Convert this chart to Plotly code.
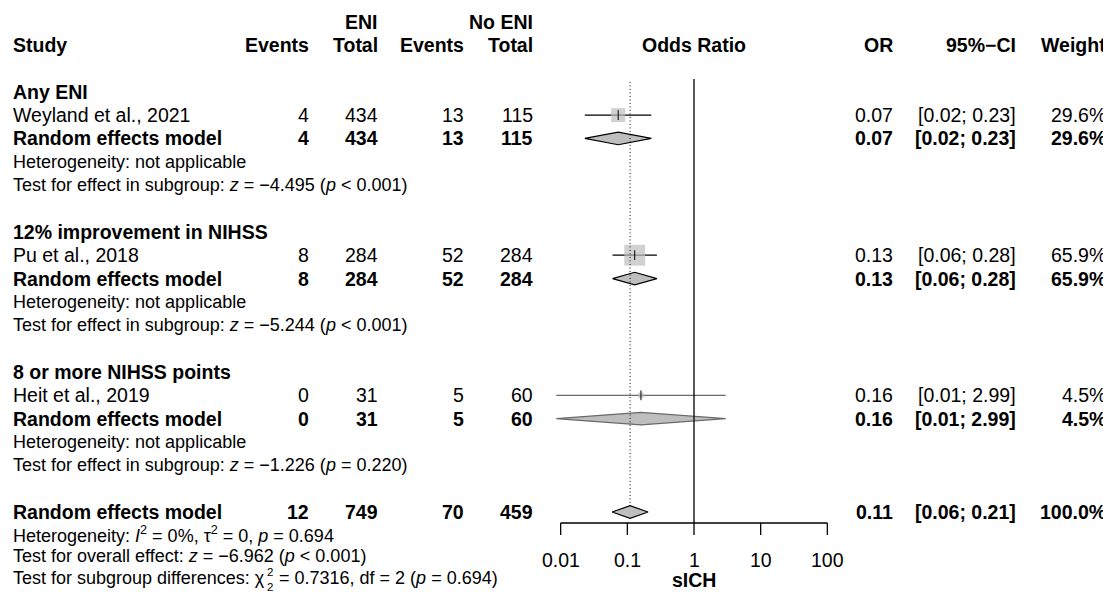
import math
import plotly.graph_objects as go

# ------------------------------------------------------------------ data
subgroup_names = ["Any ENI", "12% improvement in NIHSS", "8 or more NIHSS points"]
study_names = ["Weyland et al., 2021", "Pu et al., 2018", "Heit et al., 2019"]
eni_events = [4, 8, 0]
eni_total = [434, 284, 31]
noeni_events = [13, 52, 5]
noeni_total = [115, 284, 60]
odds_ratio = [0.073, 0.129, 0.160]
ci_lower = [0.023, 0.060, 0.0086]
ci_upper = [0.229, 0.278, 2.99]
or_labels = ["0.07", "0.13", "0.16"]
ci_labels = ["[0.02; 0.23]", "[0.06; 0.28]", "[0.01; 2.99]"]
weights = [29.6, 65.9, 4.5]
weight_labels = ["29.6%", "65.9%", "4.5%"]
subgroup_tests = [
    "Test for effect in subgroup: <i>z</i> = −4.495 (<i>p</i> &lt; 0.001)",
    "Test for effect in subgroup: <i>z</i> = −5.244 (<i>p</i> &lt; 0.001)",
    "Test for effect in subgroup: <i>z</i> = −1.226 (<i>p</i> = 0.220)",
]
subgroup_het = ["Heterogeneity: not applicable"] * 3

overall_counts = [12, 749, 70, 459]
overall_or = 0.110
overall_lower = 0.059
overall_upper = 0.205
overall_labels = ["0.11", "[0.06; 0.21]", "100.0%"]
overall_het = "Heterogeneity: <i>I</i><sup>2</sup> = 0%, τ<sup>2</sup> = 0, <i>p</i> = 0.694"
overall_test = "Test for overall effect: <i>z</i> = −6.962 (<i>p</i> &lt; 0.001)"
diff_prefix = "Test for subgroup differences: χ"
diff_scripts = "2<br>2"          # superscript 2 over subscript df = 2
diff_rest = "= 0.7316, df = 2 (<i>p</i> = 0.694)"

null_value = 1
tick_vals = [0.01, 0.1, 1, 10, 100]
tick_labels = ["0.01", "0.1", "1", "10", "100"]
x_title = "sICH"
header_top = ["ENI", "No ENI"]
header_cols = ["Study", "Events", "Total", "Events", "Total", "Odds Ratio", "OR", "95%−CI", "Weight"]

# ------------------------------------------------------------------ layout constants (screen pixels)
SCR_W, SCR_H = 1111, 592
OFF = 8                      # page body margin
FIG_W, FIG_H = SCR_W - OFF, SCR_H - OFF
X_ONE = 694.0                # screen pixel of OR = 1
DEC = 66.67                  # pixels per decade
ROW0, PITCH = 21.7, 23.35
Y_HET_ALL, Y_TEST_ALL, Y_DIFF = 534, 556, 578
FONT = "Liberation Sans"
FS, FS_HET = 19.5, 18
LEFT = 13
COL_EV1, COL_TOT1, COL_EV2, COL_TOT2 = 309, 378, 464, 533
COL_OR, COL_CI, COL_W = 893, 1016, 1106
AXIS_Y = 523
TICK_LEN = 12
DIAMOND_H = 6.3
SQ_K = 14 / math.sqrt(29.6)


def ypx(r):
    return ROW0 + PITCH * r


fig = go.Figure()
ann = []


def txt(x, y, s, anchor="left", size=FS, bold=False, xref="paper"):
    ann.append(dict(
        x=((x - OFF) / FIG_W if xref == "paper" else x), xref=xref, y=y, yref="y",
        text=("<b>" + s + "</b>") if bold else s,
        xanchor=anchor, yanchor="middle", showarrow=False,
        borderpad=0, borderwidth=0,
        font=dict(family=FONT, size=size, color="black"),
    ))


# headers
txt(COL_TOT1, ypx(0), header_top[0], "right", bold=True)
txt(COL_TOT2, ypx(0), header_top[1], "right", bold=True)
hx = [LEFT, COL_EV1, COL_TOT1, COL_EV2, COL_TOT2, None, COL_OR, COL_CI, COL_W]
for lab, x in zip(header_cols, hx):
    if x is None:
        txt(math.log10(null_value), ypx(1), lab, "center", bold=True, xref="x")
    elif x == LEFT:
        txt(x, ypx(1), lab, "left", bold=True)
    else:
        txt(x, ypx(1), lab, "right", bold=True)

# subgroups
line_cols = ["black", "black", "#6a6a6a"]
for g in range(3):
    base = 3 + 6 * g
    txt(LEFT, ypx(base), subgroup_names[g], bold=True)
    for row, bold, name in [(base + 1, False, study_names[g]), (base + 2, True, "Random effects model")]:
        y = ypx(row)
        txt(LEFT, y, name, bold=bold)
        txt(COL_EV1, y, str(eni_events[g]), "right", bold=bold)
        txt(COL_TOT1, y, str(eni_total[g]), "right", bold=bold)
        txt(COL_EV2, y, str(noeni_events[g]), "right", bold=bold)
        txt(COL_TOT2, y, str(noeni_total[g]), "right", bold=bold)
        txt(COL_OR, y, or_labels[g], "right", bold=bold)
        txt(COL_CI, y, ci_labels[g], "right", bold=bold)
        txt(COL_W, y, weight_labels[g], "right", bold=bold)
    txt(LEFT, ypx(base + 3), subgroup_het[g], size=FS_HET)
    txt(LEFT, ypx(base + 4), subgroup_tests[g], size=FS_HET)

    ys = ypx(base + 1)
    fig.add_trace(go.Scatter(x=[ci_lower[g], ci_upper[g]], y=[ys, ys], mode="lines",
                             line=dict(color=line_cols[g], width=1.2), hoverinfo="skip"))
    yd = ypx(base + 2)
    fig.add_trace(go.Scatter(
        x=[ci_lower[g], odds_ratio[g], ci_upper[g], odds_ratio[g], ci_lower[g]],
        y=[yd, yd - DIAMOND_H, yd, yd + DIAMOND_H, yd],
        mode="lines", fill="toself", fillcolor="#BEBEBE",
        line=dict(color=line_cols[g], width=1.2), hoverinfo="skip"))

# squares (side ~ sqrt(weight)) and centre ticks
study_y = [ypx(4 + 6 * g) for g in range(3)]
fig.add_trace(go.Scatter(
    x=odds_ratio, y=study_y, mode="markers",
    marker=dict(symbol="square", size=[SQ_K * math.sqrt(w) for w in weights],
                color="#BEBEBE", line=dict(width=0)), hoverinfo="skip"))
fig.add_trace(go.Scatter(
    x=odds_ratio, y=study_y, mode="markers",
    marker=dict(symbol="line-ns", size=7, line=dict(color="black", width=1)), hoverinfo="skip"))

# overall
y = ypx(21)
txt(LEFT, y, "Random effects model", bold=True)
for x, v in zip([COL_EV1, COL_TOT1, COL_EV2, COL_TOT2], overall_counts):
    txt(x, y, str(v), "right", bold=True)
for x, v in zip([COL_OR, COL_CI, COL_W], overall_labels):
    txt(x, y, v, "right", bold=True)
txt(LEFT, Y_HET_ALL, overall_het, size=FS_HET)
txt(LEFT, Y_TEST_ALL, overall_test, size=FS_HET)

# subgroup-difference line: prefix, stacked scripts, remainder
AW = {' ': 278, ':': 278, ',': 278, '.': 278, 'T': 611, 'a': 556, 'b': 556, 'c': 500, 'd': 556,
      'e': 556, 'f': 278, 'g': 556, 'i': 222, 'n': 556, 'o': 556, 'p': 556, 'r': 333, 's': 500,
      't': 278, 'u': 556, 'χ': 520}
pre_w = sum(AW.get(c, 556) for c in diff_prefix) / 1000 * FS_HET
SCRIPT_FS = 11.5
txt(LEFT, Y_DIFF, diff_prefix, size=FS_HET)
sx = LEFT + pre_w + 1.0
txt(sx, Y_DIFF + 1.5, diff_scripts, size=SCRIPT_FS)
txt(sx + 0.556 * SCRIPT_FS + 0.278 * FS_HET + 0.5, Y_DIFF, diff_rest, size=FS_HET)

yo = ypx(21)
fig.add_trace(go.Scatter(
    x=[overall_lower, overall_or, overall_upper, overall_or, overall_lower],
    y=[yo, yo - DIAMOND_H, yo, yo + DIAMOND_H, yo],
    mode="lines", fill="toself", fillcolor="#BEBEBE",
    line=dict(color="black", width=1.2), hoverinfo="skip"))

# reference lines
top_y = ypx(2.45)
fig.add_trace(go.Scatter(x=[null_value, null_value], y=[top_y, AXIS_Y], mode="lines",
                         line=dict(color="black", width=1.3), hoverinfo="skip"))
fig.add_trace(go.Scatter(x=[overall_or, overall_or], y=[top_y + 3, yo - DIAMOND_H], mode="lines",
                         line=dict(color="black", width=1, dash="1px,2.5px"), hoverinfo="skip"))

# x axis drawn on the log scale
ax_x, ax_y = [tick_vals[0], tick_vals[-1], None], [AXIS_Y, AXIS_Y, None]
for tv in tick_vals:
    ax_x += [tv, tv, None]
    ax_y += [AXIS_Y, AXIS_Y + TICK_LEN, None]
fig.add_trace(go.Scatter(x=ax_x, y=ax_y, mode="lines", line=dict(color="black", width=1.3),
                         hoverinfo="skip"))
for tv, lab in zip(tick_vals, tick_labels):
    txt(math.log10(tv), 560, lab, "center", xref="x")
txt(math.log10(null_value), 580, x_title, "center", bold=True, xref="x")

fig.update_layout(
    width=FIG_W, height=FIG_H, autosize=False, margin=dict(l=0, r=0, t=0, b=0),
    paper_bgcolor="white", plot_bgcolor="white", showlegend=False,
    xaxis=dict(type="log", range=[(OFF - X_ONE) / DEC, (SCR_W - X_ONE) / DEC], visible=False),
    yaxis=dict(range=[SCR_H, OFF], visible=False),
    annotations=ann,
)
fig.write_html("out.html")
